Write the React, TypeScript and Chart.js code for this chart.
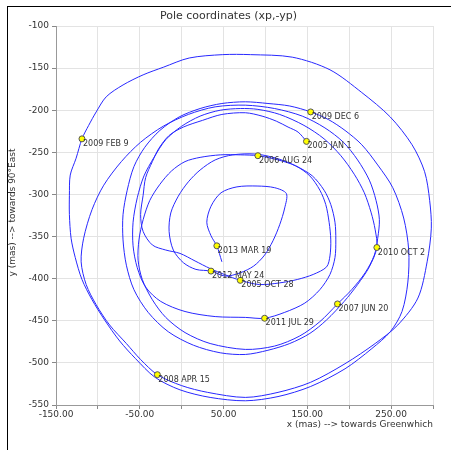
import React, { useEffect, useRef } from 'react';
import { Chart, registerables } from 'chart.js';

Chart.register(...registerables);

// Pole path, x (mas) and -y (mas), in time order from 2005 JAN 1
const poleX = [
  149, 139, 127, 113, 96, 76, 48, 25, 2, -15, -27, -35, -43, -46, -49, -46, -35, -19, -2, 16, 34, 51, 70,
  93, 117, 138, 157, 173, 177, 178, 176, 172, 165, 153, 136, 115, 91,
  70, 46, 22, 4, -12, -26, -38, -46, -51, -52, -47, -35, -19, 4, 34, 76, 111, 141, 165, 186,
  203, 219, 230, 234, 236, 232, 224, 210, 193, 171, 144, 111, 76, 40, 8, -22, -49, -72, -93, -107, -117, -120, -114, -102, -86, -66, -49, -29,
  0, 31, 76, 115, 154, 195, 231, 258, 282, 293, 298, 296, 290, 275, 249, 215, 177, 132, 82, 49, 9, -22, -46, -70, -90, -102, -111, -119,
  -126, -133, -134, -134, -132, -127, -119, -107, -92, -74, -55, -32, -2, 34, 76, 115, 154, 195, 227, 249, 263, 270, 271, 265, 252, 234, 215, 195, 175, 154,
  129, 103, 76, 48, 22, -3, -26, -44, -57, -65, -70, -70, -66, -57, -40, -16, 14, 46, 76, 103, 129, 153, 173, 194, 210, 224, 233,
  231, 226, 218, 206, 190, 170, 146, 117, 91, 70, 46, 22, 0, -19, -33, -45, -53, -58, -58, -53, -43, -25, 4, 40, 76, 99,
  123, 147, 165, 177, 183, 184, 183, 178, 170, 156, 136, 113, 88, 61, 40, 22, 8, -4, -13, -15, -10, 2, 17, 35,
  52, 70, 86, 99, 109, 117, 123, 125, 111, 90, 66, 47, 35, 30, 35, 42, 45, 48,
];
const poleY = [
  -237, -226, -220, -213, -207, -203, -205, -212, -220, -230, -245, -261, -280, -301, -324, -344, -360, -366, -370, -379, -388, -395, -402,
  -407, -405, -401, -395, -386, -373, -354, -333, -312, -295, -278, -266, -259, -254,
  -253, -253, -256, -261, -272, -288, -307, -330, -354, -378, -401, -425, -446, -464, -477, -484, -480, -468, -451, -430,
  -413, -393, -372, -352, -330, -307, -283, -259, -238, -221, -207, -198, -194, -196, -205, -219, -238, -261, -289, -318, -352, -380, -407, -431, -455, -477, -496, -514,
  -527, -535, -541, -535, -523, -501, -477, -455, -423, -380, -340, -307, -273, -241, -208, -179, -152, -137, -134, -134, -138, -149, -158, -170, -184, -202, -218, -234,
  -257, -277, -301, -324, -352, -375, -401, -425, -449, -474, -495, -517, -532, -541, -545, -540, -528, -507, -483, -463, -439, -404, -366, -328, -292, -265, -241, -224, -211, -202,
  -195, -192, -190, -192, -198, -208, -224, -244, -267, -295, -324, -354, -384, -413, -440, -463, -479, -488, -490, -485, -477, -465, -449, -427, -407, -386, -363,
  -342, -321, -298, -276, -254, -234, -218, -205, -199, -198, -200, -207, -219, -235, -256, -278, -304, -333, -361, -387, -410, -427, -439, -445, -446, -447,
  -440, -429, -413, -395, -375, -354, -333, -312, -295, -278, -266, -257, -252, -253, -259, -271, -285, -302, -322, -344, -366, -381, -389, -391,
  -397, -393, -385, -372, -355, -336, -316, -299, -292, -290, -291, -298, -314, -333, -349, -361, -370, -380,
];

// Dated marks
const markLabels = [
  '2005 JAN 1', '2005 OCT 28', '2006 AUG 24', '2007 JUN 20', '2008 APR 15', '2009 FEB 9',
  '2009 DEC 6', '2010 OCT 2', '2011 JUL 29', '2012 MAY 24', '2013 MAR 19',
];
const markX = [149, 70, 91, 186, -29, -119, 154, 233, 99, 35, 42];
const markY = [-237, -402, -254, -430, -514, -234, -202, -363, -447, -391, -361];

const X_MIN = -150;
const X_MAX = 300;
const X_STEP = 50;
const Y_MIN = -550;
const Y_MAX = -100;
const Y_STEP = 50;

const TITLE = 'Pole coordinates (xp,-yp)';
const X_TITLE = 'x (mas) --> towards Greenwhich';
const Y_TITLE = 'y (mas) --> towards 90°East';

const FONT = '"DejaVu Sans", Verdana, sans-serif';
const TEXT = '#333333';

export default function App() {
  const ref = useRef<HTMLCanvasElement>(null);

  useEffect(() => {
    const canvas = ref.current;
    if (!canvas) return;

    const textPlugin = {
      id: 'texts',
      afterDatasetsDraw(chart: any) {
        const ctx = chart.ctx;
        const xs = chart.scales.x;
        const ys = chart.scales.y;
        ctx.save();
        ctx.fillStyle = TEXT;
        ctx.font = `8px ${FONT}`;
        ctx.textAlign = 'left';
        ctx.textBaseline = 'alphabetic';
        markLabels.forEach((t, i) => {
          const px = xs.getPixelForValue(markX[i]);
          const py = ys.getPixelForValue(markY[i]);
          ctx.fillText(t, px + 1, py + 7);
        });
        ctx.restore();
      },
      afterDraw(chart: any) {
        const ctx = chart.ctx;
        const area = chart.chartArea;
        ctx.save();
        ctx.fillStyle = TEXT;
        ctx.font = `11px ${FONT}`;
        ctx.textAlign = 'center';
        ctx.textBaseline = 'alphabetic';
        ctx.fillText(TITLE, 228.5, 19);
        ctx.font = `9px ${FONT}`;
        ctx.textAlign = 'right';
        ctx.fillText(X_TITLE, area.right, 427);
        ctx.translate(15, (area.top + area.bottom) / 2 - 3);
        ctx.rotate(-Math.PI / 2);
        ctx.textAlign = 'center';
        ctx.fillText(Y_TITLE, 0, 0);
        ctx.restore();
      },
    };

    const chart = new Chart(canvas, {
      type: 'scatter',
      data: {
        datasets: [
          {
            data: markX.map((x, i) => ({ x, y: markY[i] })),
            showLine: false,
            pointRadius: 3,
            pointBackgroundColor: '#ffff00',
            pointBorderColor: '#555555',
            pointBorderWidth: 1,
          },
          {
            data: poleX.map((x, i) => ({ x, y: poleY[i] })),
            showLine: true,
            borderColor: '#2828ff',
            borderWidth: 1,
            pointRadius: 0,
            tension: 0.3,
            fill: false,
          },
        ],
      },
      options: {
        responsive: false,
        animation: false,
        devicePixelRatio: 1,
        layout: { padding: { left: 0, right: 18, top: 26, bottom: 0 } },
        plugins: {
          legend: { display: false },
          tooltip: { enabled: false },
          title: { display: false },
        },
        scales: {
          x: {
            type: 'linear',
            min: X_MIN,
            max: X_MAX,
            afterFit(s: any) {
              s.height = 45;
            },
            ticks: {
              stepSize: X_STEP,
              autoSkip: false,
              maxRotation: 0,
              padding: 0,
              color: TEXT,
              font: { family: FONT, size: 9 },
              callback: (v: any) => ((Number(v) - X_MIN) % 100 === 0 ? Number(v).toFixed(2) : ''),
            },
            grid: { color: '#e3e3e3', tickColor: '#888888', tickLength: 4 },
            border: { color: '#999999' },
          },
          y: {
            type: 'linear',
            min: Y_MIN,
            max: Y_MAX,
            afterFit(s: any) {
              s.width = 56;
            },
            ticks: {
              stepSize: Y_STEP,
              autoSkip: false,
              padding: 3,
              color: TEXT,
              font: { family: FONT, size: 9 },
              callback: (v: any) => String(v),
            },
            grid: { color: '#e3e3e3', tickColor: '#888888', tickLength: 4 },
            border: { color: '#999999' },
          },
        },
      },
      plugins: [textPlugin],
    } as any);

    return () => chart.destroy();
  }, []);

  return (
    <div style={{ position: 'absolute', left: 0, top: 0, width: 451, height: 450, overflow: 'hidden', background: '#fff' }}>
      <div
        style={{
          position: 'absolute',
          left: 7,
          top: 6,
          width: 470,
          height: 470,
          borderLeft: '1px solid #000',
          borderTop: '1px solid #000',
        }}
      />
      <canvas ref={ref} width={451} height={450} style={{ position: 'absolute', left: 0, top: 0 }} />
    </div>
  );
}
